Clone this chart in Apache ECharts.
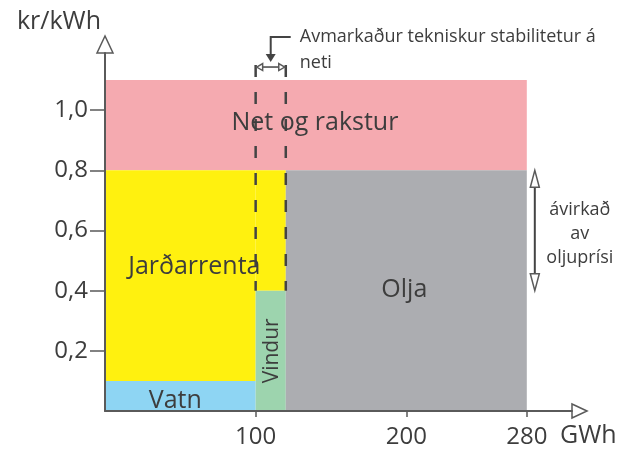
<!DOCTYPE html>
<html>
<head>
<meta charset="utf-8">
<script src="https://cdn.jsdelivr.net/npm/echarts@6/dist/echarts.min.js"></script>
<style>
  html, body { margin: 0; padding: 0; background: #fff; }
  #chart { width: 632px; height: 452px; }
</style>
</head>
<body>
<div id="chart"></div>
<script>
// cost blocks: GWh range (x) and kr/kWh range (y)
const blockNames = ['Net og rakstur', 'Jarðarrenta', 'Jarðarrenta', 'Vatn', 'Vindur', 'Olja'];
const blockXFrom = [0, 0, 100, 0, 100, 120];
const blockXTo = [280, 100, 120, 100, 120, 280];
const blockYFrom = [0.8, 0.1, 0.4, 0, 0, 0];
const blockYTo = [1.1, 0.8, 0.8, 0.1, 0.4, 0.8];
const blockLabelled = [true, true, false, true, true, true];

const xTicks = [100, 200, 280];
const yTicks = [0.2, 0.4, 0.6, 0.8, 1.0];

// band of limited technical stability on the grid
const bandEdges = [100, 120];
const bandRange = [0.4, 1.15];
// price range affected by oil price
const oilRange = [0.4, 0.8];

const xMax = 310;
const yMax = 1.19;

const FONT = 'Open Sans';
const TEXT = '#3d3d3d';
const AXIS = '#5a5a5a';

const colors = {
  'Net og rakstur': '#f5aab0',
  'Jarðarrenta': '#fff10f',
  'Vatn': '#8ed5f3',
  'Vindur': '#9dd4ae',
  'Olja': '#acadb1'
};
// label tweaks (pixel offset from block centre, font size, rotation)
const labelLook = {
  'Net og rakstur': { dx: -1, dy: -2, size: 25, rot: 0 },
  'Jarðarrenta': { dx: 14, dy: -9, size: 25, rot: 0 },
  'Vatn': { dx: -5, dy: 5, size: 25, rot: 0 },
  'Vindur': { dx: 1, dy: 0, size: 21, rot: Math.PI / 2 },
  'Olja': { dx: -2, dy: -1, size: 25, rot: 0 }
};

const blockData = blockNames.map((n, i) => [blockXFrom[i], blockXTo[i], blockYFrom[i], blockYTo[i], i]);

const chart = echarts.init(document.getElementById('chart'));

function renderBlock(params, api) {
  const i = api.value(4);
  const p0 = api.coord([api.value(0), api.value(3)]);
  const p1 = api.coord([api.value(1), api.value(2)]);
  return {
    type: 'rect',
    shape: { x: p0[0], y: p0[1], width: p1[0] - p0[0], height: p1[1] - p0[1] },
    style: { fill: colors[blockNames[i]] }
  };
}

function renderLabel(params, api) {
  const i = api.value(4);
  if (!blockLabelled[i]) return null;
  const name = blockNames[i];
  const look = labelLook[name];
  const c = api.coord([(api.value(0) + api.value(1)) / 2, (api.value(2) + api.value(3)) / 2]);
  return {
    type: 'text',
    x: c[0] + look.dx,
    y: c[1] + look.dy,
    rotation: look.rot,
    style: {
      text: name, fill: TEXT, font: look.size + 'px "' + FONT + '"',
      align: 'center', verticalAlign: 'middle'
    }
  };
}

function renderDashes(params, api) {
  const x = api.value(0);
  const top = api.coord([x, bandRange[1]]);
  const bot = api.coord([x, bandRange[0]]);
  return {
    type: 'line',
    shape: { x1: top[0], y1: top[1], x2: bot[0], y2: bot[1] },
    style: { stroke: '#444', lineWidth: 2.5, lineDash: [12, 15] }
  };
}

function openArrow(tip, dir, len, half) {
  // dir: 'up','down','left','right'
  let pts;
  if (dir === 'up') pts = [tip, [tip[0] - half, tip[1] + len], [tip[0] + half, tip[1] + len]];
  if (dir === 'down') pts = [tip, [tip[0] - half, tip[1] - len], [tip[0] + half, tip[1] - len]];
  if (dir === 'left') pts = [tip, [tip[0] + len, tip[1] - half], [tip[0] + len, tip[1] + half]];
  if (dir === 'right') pts = [tip, [tip[0] - len, tip[1] - half], [tip[0] - len, tip[1] + half]];
  return { type: 'polygon', shape: { points: pts }, style: { fill: '#fff', stroke: AXIS, lineWidth: 1.5 } };
}

function renderNotes(params, api) {
  const kids = [];
  const origin = api.coord([0, 0]);
  const yEnd = api.coord([0, yMax]);
  const xEnd = api.coord([xMax, 0]);

  // axis arrow heads + axis titles
  kids.push(openArrow([yEnd[0], yEnd[1] - 17], 'up', 17, 8));
  kids.push(openArrow([xEnd[0] + 15, xEnd[1]], 'right', 15, 7));
  kids.push({ type: 'text', x: origin[0] - 46, y: yEnd[1] - 31,
    style: { text: 'kr/kWh', fill: TEXT, font: '25px "' + FONT + '"', align: 'center', verticalAlign: 'middle' } });
  kids.push({ type: 'text', x: xEnd[0] - 12, y: origin[1] + 25,
    style: { text: 'GWh', fill: TEXT, font: '25px "' + FONT + '"', align: 'left', verticalAlign: 'middle' } });

  // stability band marker
  const l = api.coord([bandEdges[0], bandRange[1]]);
  const r = api.coord([bandEdges[1], bandRange[1]]);
  const mx = (l[0] + r[0]) / 2;
  const hy = l[1] + 2;
  kids.push({ type: 'line', shape: { x1: l[0] + 1, y1: hy, x2: r[0] - 1, y2: hy }, style: { stroke: '#444', lineWidth: 1.5 } });
  kids.push(openArrow([l[0] + 1, hy], 'left', 6, 3.5));
  kids.push(openArrow([r[0] - 1, hy], 'right', 6, 3.5));
  kids.push({ type: 'polyline', shape: { points: [[mx + 20, l[1] - 28], [mx, l[1] - 28], [mx, l[1] - 10]] },
    style: { stroke: '#444', lineWidth: 2, fill: null } });
  kids.push({ type: 'polygon', shape: { points: [[mx, l[1] - 3], [mx - 5, l[1] - 11], [mx + 5, l[1] - 11]] },
    style: { fill: '#444' } });
  kids.push({ type: 'text', x: r[0] + 14, y: l[1] - 28,
    style: { text: 'Avmarkaður tekniskur stabilitetur á', fill: TEXT, font: '18px "' + FONT + '"', align: 'left', verticalAlign: 'middle' } });
  kids.push({ type: 'text', x: r[0] + 14, y: l[1] - 2,
    style: { text: 'neti', fill: TEXT, font: '18px "' + FONT + '"', align: 'left', verticalAlign: 'middle' } });

  // oil price range arrow
  const ot = api.coord([280, oilRange[1]]);
  const ob = api.coord([280, oilRange[0]]);
  const ax = ot[0] + 8;
  kids.push({ type: 'line', shape: { x1: ax, y1: ot[1] + 12, x2: ax, y2: ob[1] - 12 }, style: { stroke: '#444', lineWidth: 2 } });
  kids.push(openArrow([ax, ot[1]], 'up', 17, 4.5));
  kids.push(openArrow([ax, ob[1]], 'down', 17, 4.5));
  const om = api.coord([280, (oilRange[0] + oilRange[1]) / 2]);
  kids.push({ type: 'text', x: ot[0] + 53, y: om[1] + 3,
    style: { text: 'ávirkað\nav\noljuprísi', fill: TEXT, font: '18px "' + FONT + '"', lineHeight: 24, align: 'center', verticalAlign: 'middle' } });

  return { type: 'group', children: kids };
}

const option = {
  animation: false,
  backgroundColor: '#fff',
  grid: { left: 105, top: 53, width: 467, height: 358, outerBoundsMode: 'none', containLabel: false },
  xAxis: {
    type: 'value', min: 0, max: xMax, z: 10,
    splitLine: { show: false },
    axisLine: { show: true, onZero: false, lineStyle: { color: AXIS, width: 2 } },
    axisTick: { show: true, customValues: xTicks, length: 6, lineStyle: { color: AXIS, width: 1.5 } },
    axisLabel: { customValues: xTicks, margin: 14, color: TEXT, fontFamily: FONT, fontSize: 24 }
  },
  yAxis: {
    type: 'value', min: 0, max: yMax, z: 10,
    splitLine: { show: false },
    axisLine: { show: true, onZero: false, lineStyle: { color: AXIS, width: 2 } },
    axisTick: { show: true, customValues: yTicks, length: 15, lineStyle: { color: AXIS, width: 1.5 } },
    axisLabel: {
      customValues: yTicks, margin: 17, color: TEXT, fontFamily: FONT, fontSize: 24,
      formatter: v => v.toFixed(1).replace('.', ',')
    }
  },
  series: [
    { type: 'custom', z: 1, data: blockData, encode: { x: [0, 1], y: [2, 3] }, renderItem: renderBlock },
    { type: 'custom', z: 2, data: bandEdges.map(x => [x, bandRange[1]]), encode: { x: 0, y: 1 }, renderItem: renderDashes },
    { type: 'custom', z: 3, data: blockData, encode: { x: [0, 1], y: [2, 3] }, renderItem: renderLabel },
    { type: 'custom', z: 4, data: [[0, 0]], encode: { x: 0, y: 1 }, renderItem: renderNotes }
  ]
};

chart.setOption(option);
</script>
</body>
</html>
